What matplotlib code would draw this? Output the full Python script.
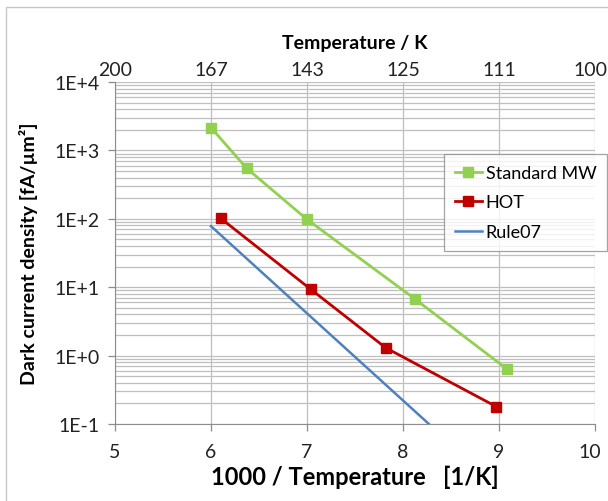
import matplotlib
matplotlib.use("Agg")
import matplotlib.pyplot as plt
from matplotlib.lines import Line2D
from matplotlib.ticker import LogLocator, NullFormatter
from matplotlib.transforms import ScaledTranslation

plt.rcParams['font.family'] = ['Lato', 'DejaVu Sans']

# data
std_x = [6.0, 6.37, 7.0, 8.12, 9.08]
std_y = [2150, 550, 98, 6.8, 0.64]
hot_x = [6.1, 7.04, 7.82, 8.97]
hot_y = [102, 9.3, 1.3, 0.18]
rule_x = [6.0, 8.27]
rule_y = [78, 0.1]
x_ticks = [5, 6, 7, 8, 9, 10]
top_labels = ['200', '167', '143', '125', '111', '100']
y_ticks = [1e-1, 1e0, 1e1, 1e2, 1e3, 1e4]
y_labels = ['1E-1', '1E+0', '1E+1', '1E+2', '1E+3', '1E+4']

W, H = 608, 502
fig = plt.figure(figsize=(W / 100, H / 100), dpi=100)
# chart frame (only top and left edges show in the crop)
fig.lines.append(Line2D([6 / W, 6 / W, 1], [0, 1 - 8 / H, 1 - 8 / H], transform=fig.transFigure,
                        color='#c8c8c8', linewidth=1))

left, right, top, bottom = 115, 595, 83, 425
ax = fig.add_axes([left / W, 1 - bottom / H, (right - left) / W, (bottom - top) / H])

grid_c = '#bfbfbf'
ax.set_yscale('log')
ax.set_xlim(5, 10)
ax.set_ylim(1e-1, 1e4)
ax.set_xticks(x_ticks)
ax.set_yticks(y_ticks)
ax.set_yticklabels(y_labels)
ax.yaxis.set_minor_locator(LogLocator(base=10, subs=range(2, 10)))
ax.yaxis.set_minor_formatter(NullFormatter())
ax.grid(True, which='major', color=grid_c, linewidth=0.9)
ax.grid(True, which='minor', axis='y', color=grid_c, linewidth=0.9)
ax.tick_params(axis='both', which='major', labelsize=14, color='#8c8c8c', length=5,
               width=0.9, labelcolor='#222222')
ax.tick_params(axis='x', which='major', pad=9)
ax.tick_params(axis='y', which='major', pad=6)
ax.tick_params(axis='y', which='minor', length=0)
for side in ['right', 'top']:
    ax.spines[side].set_visible(False)
for side in ['left', 'bottom']:
    ax.spines[side].set_color('#8c8c8c')

ax.plot(std_x, std_y, color='#92D050', linewidth=2, marker='s', markersize=7.5,
        label='Standard MW')
ax.plot(hot_x, hot_y, color='#C00000', linewidth=2, marker='s', markersize=7.5,
        label='HOT')
ax.plot(rule_x, rule_y, color='#4F81BD', linewidth=1.8, label='Rule07')

ax.set_xlabel('1000 / Temperature   [1/K]', fontsize=17, fontweight='bold', labelpad=3)
ax.set_ylabel('Dark current density [fA/\u00b5m\u00b2]', fontsize=14, fontweight='bold',
              labelpad=12)

top_ax = ax.secondary_xaxis('top')
top_ax.set_xticks(x_ticks)
top_ax.set_xticklabels(top_labels)
top_ax.tick_params(labelsize=14, length=0, pad=3, labelcolor='#222222')
top_ax.spines['top'].set_visible(False)
top_ax.set_xlabel('Temperature / K', fontsize=14, fontweight='bold', labelpad=9)

# the last labels sit right against the picture edge: nudge them in a little
nudge = ScaledTranslation(-5 / 100, 0, fig.dpi_scale_trans)
for lbl in [ax.get_xticklabels()[-1], top_ax.get_xticklabels()[-1]]:
    lbl.set_transform(lbl.get_transform() + nudge)

leg = ax.legend(loc='upper left',
                bbox_to_anchor=((444 - left) / (right - left), 1 - (155 - top) / (bottom - top)),
                borderaxespad=0, fontsize=13, frameon=True, fancybox=False, handlelength=1.5,
                handletextpad=0.2, labelspacing=0.75, borderpad=0.6)
leg.get_frame().set_edgecolor('#8c8c8c')
leg.get_frame().set_linewidth(0.9)

fig.savefig('out.png', dpi=100)
